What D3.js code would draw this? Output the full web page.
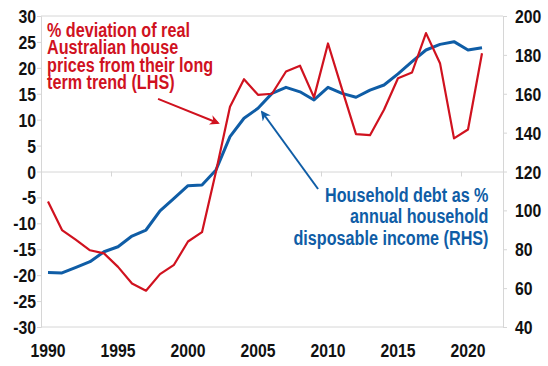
<!DOCTYPE html>
<html>
<head>
<meta charset="utf-8">
<script src="https://cdn.jsdelivr.net/npm/d3@7"></script>
<style>
  html, body { margin: 0; padding: 0; background: #fff; }
  svg { display: block; }
  text { font-family: "Liberation Sans", Arial, sans-serif; font-weight: bold; }
</style>
</head>
<body>
<svg id="chart" width="548" height="366"></svg>
<script>
// ---- data ----
const years = d3.range(1990, 2022);
const housePriceDeviation = [
  -5.8, -11.3, -13.2, -15.2, -15.8, -18.4, -21.6, -23.0, -19.8, -18.0,
  -13.5, -11.7, 0.0, 12.5, 17.8, 14.8, 15.0, 19.3, 20.4, 14.3,
  24.7, 15.9, 7.2, 7.0, 11.9, 18.0, 19.1, 26.7, 20.9, 6.4,
  8.1, 22.8
];
const householdDebt = [
  68.0, 67.8, 70.7, 73.6, 78.7, 81.3, 86.8, 89.9, 99.8, 106.2,
  112.7, 113.1, 120.8, 137.9, 147.4, 152.5, 160.2, 163.3, 161.0, 156.8,
  163.3, 160.2, 158.2, 161.9, 164.5, 170.2, 176.5, 182.5, 185.4, 186.8,
  182.5, 183.7
];
const xTickYears = [1990, 1995, 2000, 2005, 2010, 2015, 2020];
const leftTicks = [-30, -25, -20, -15, -10, -5, 0, 5, 10, 15, 20, 25, 30];
const rightTicks = [40, 60, 80, 100, 120, 140, 160, 180, 200];
const redLabel = ["% deviation of real", "Australian house", "prices from their long", "term trend (LHS)"];
const blueLabel = ["Household debt as %", "annual household", "disposable income (RHS)"];

// ---- layout ----
const RED = "#D0121F", BLUE = "#0F5DA6", GRID = "#D6D6D6";
const L = 41, R = 503, T = 16, B = 327;
const SQ = 0.83; // horizontal condensing to imitate a narrow face
const svg = d3.select("#chart");

const x = d3.scaleLinear().domain([1989.5, 2022.5]).range([L, R]);
const yL = d3.scaleLinear().domain([-30, 30]).range([B, T]);
const yR = d3.scaleLinear().domain([40, 200]).range([B, T]);

function ctext(parent, px, py, anchor, str, size, color) {
  parent.append("g").attr("transform", `translate(${px},${py}) scale(${SQ},1)`)
    .append("text").attr("text-anchor", anchor).attr("fill", color)
    .style("font-size", size + "px").text(str);
}
function cblock(parent, px, py, anchor, lines, size, color, lh) {
  const t = parent.append("g").attr("transform", `translate(${px},${py}) scale(${SQ},1)`)
    .append("text").attr("text-anchor", anchor).attr("fill", color)
    .style("font-size", size + "px");
  t.selectAll("tspan").data(lines).join("tspan")
    .attr("x", 0).attr("y", (d, i) => i * lh).text(d => d);
}

// frame lines
svg.append("line").attr("x1", L).attr("x2", R).attr("y1", T).attr("y2", T).attr("stroke", GRID);
svg.append("line").attr("x1", L).attr("x2", R).attr("y1", B).attr("y2", B).attr("stroke", GRID);

// axes (lines and ticks)
const gl = svg.append("g").attr("transform", `translate(${L},0)`)
  .call(d3.axisLeft(yL).tickValues(leftTicks).tickSize(4).tickFormat(""));
const gr = svg.append("g").attr("transform", `translate(${R},0)`)
  .call(d3.axisRight(yR).tickValues(rightTicks).tickSize(4).tickFormat(""));
const gx = svg.append("g").attr("transform", `translate(0,${yL(0)})`)
  .call(d3.axisBottom(x).tickValues(xTickYears.map(v => v - 0.5)).tickSize(5).tickFormat(""));
gx.select(".domain").attr("d", `M${L},0.5H${R}`);
[gl, gr, gx].forEach(g => {
  g.select(".domain").attr("stroke", GRID);
  g.selectAll(".tick line").attr("stroke", GRID);
});

// tick labels
const labels = svg.append("g");
leftTicks.forEach(v => ctext(labels, 36, yL(v) + 7, "end", v, 19, "#111"));
rightTicks.forEach(v => ctext(labels, 515, yR(v) + 7, "start", v, 19, "#111"));
xTickYears.forEach(v => ctext(labels, x(v), 357, "middle", v, 19, "#111"));

// lines
const redLine = d3.line().x((d, i) => x(years[i])).y(d => yL(d));
const blueLine = d3.line().x((d, i) => x(years[i])).y(d => yR(d));
svg.append("path").datum(householdDebt).attr("d", blueLine)
  .attr("fill", "none").attr("stroke", BLUE).attr("stroke-width", 3).attr("stroke-linejoin", "round");
svg.append("path").datum(housePriceDeviation).attr("d", redLine)
  .attr("fill", "none").attr("stroke", RED).attr("stroke-width", 2.2).attr("stroke-linejoin", "round");

// arrow markers
const defs = svg.append("defs");
[["arrRed", RED], ["arrBlue", BLUE]].forEach(([id, c]) => {
  defs.append("marker").attr("id", id).attr("viewBox", "0 0 10 10")
    .attr("refX", 8).attr("refY", 5).attr("markerWidth", 5).attr("markerHeight", 5)
    .attr("orient", "auto").attr("markerUnits", "strokeWidth")
    .append("path").attr("d", "M0,0 L10,5 L0,10 L3,5 Z").attr("fill", c);
});
svg.append("line")
  .attr("x1", x(1997.86)).attr("y1", yL(14.0)).attr("x2", x(2002.14)).attr("y2", yL(9.36))
  .attr("stroke", RED).attr("stroke-width", 2).attr("marker-end", "url(#arrRed)");
svg.append("line")
  .attr("x1", x(2009.29)).attr("y1", yR(111.0)).attr("x2", x(2005.29)).attr("y2", yR(150.6))
  .attr("stroke", BLUE).attr("stroke-width", 2).attr("marker-end", "url(#arrBlue)");

// annotation labels
const ann = svg.append("g");
cblock(ann, 47, 37, "start", redLabel, 19.5, RED, 17.3);
cblock(ann, 488.5, 202, "end", blueLabel, 19.5, BLUE, 21.5);
</script>
</body>
</html>
